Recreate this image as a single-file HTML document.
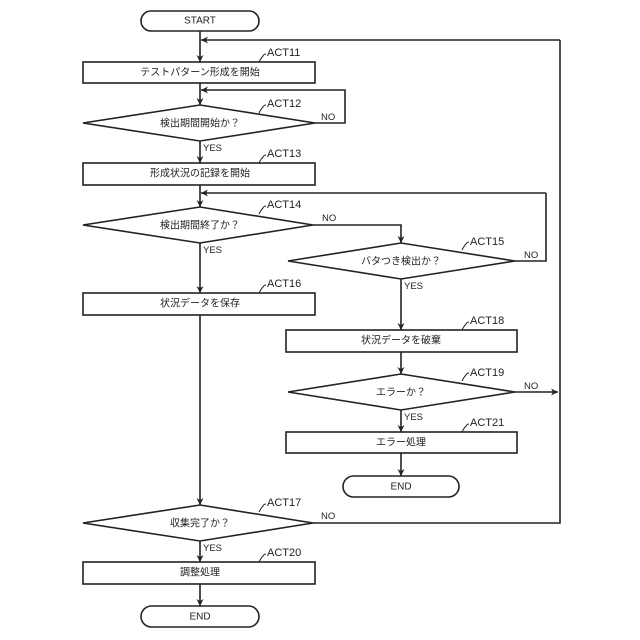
<!DOCTYPE html>
<html><head><meta charset="utf-8"><style>
html,body{margin:0;padding:0;background:#fff;}
svg{display:block;}
text{font-family:"Liberation Sans","Noto Sans CJK JP",sans-serif;fill:#222;}
.n{font-size:10px;text-anchor:middle;dominant-baseline:central;}
.a{font-size:11px;}
.s{font-size:9.5px;}
</style></head><body>
<svg width="640" height="640" viewBox="0 0 640 640">
<defs><marker id="ar" viewBox="0 0 10 10" refX="10" refY="5" markerWidth="7" markerHeight="7" orient="auto" markerUnits="userSpaceOnUse"><path d="M0,0 L10,5 L0,10 L3,5 Z" fill="#222"/></marker></defs>
<g fill="none" stroke="#222" stroke-width="1.6">
<!-- shapes -->
<rect x="141" y="11" width="118" height="20" rx="10"/>
<rect x="83" y="62" width="232" height="21"/>
<polygon points="83,123 200,105 315,123 200,141"/>
<rect x="83" y="163" width="232" height="22"/>
<polygon points="83,225 200,207 313,225 200,243"/>
<polygon points="288,261 401,243 515,261 401,279"/>
<rect x="83" y="293" width="232" height="22"/>
<rect x="286" y="330" width="231" height="22"/>
<polygon points="288,392 401,374 515,392 401,410"/>
<rect x="286" y="432" width="231" height="21"/>
<rect x="343" y="476" width="116" height="21" rx="10.5"/>
<polygon points="83,523 200,505 313,523 200,541"/>
<rect x="83" y="562" width="232" height="22"/>
<rect x="141" y="606" width="118" height="21" rx="10.5"/>
<!-- connectors -->
<path d="M200,31 V62" marker-end="url(#ar)"/>
<path d="M560,40 H201" marker-end="url(#ar)"/>
<path d="M200,83 V105" marker-end="url(#ar)"/>
<path d="M315,123 H345 V90 H201" marker-end="url(#ar)"/>
<path d="M200,141 V163" marker-end="url(#ar)"/>
<path d="M200,185 V207" marker-end="url(#ar)"/>
<path d="M546,193 H201" marker-end="url(#ar)"/>
<path d="M313,225 H401 V243" marker-end="url(#ar)"/>
<path d="M515,261 H546 V193"/>
<path d="M200,243 V293" marker-end="url(#ar)"/>
<path d="M401,279 V330" marker-end="url(#ar)"/>
<path d="M401,352 V374" marker-end="url(#ar)"/>
<path d="M515,392 H558" marker-end="url(#ar)"/>
<path d="M401,410 V432" marker-end="url(#ar)"/>
<path d="M401,453 V476" marker-end="url(#ar)"/>
<path d="M200,315 V505" marker-end="url(#ar)"/>
<path d="M313,523 H560 V40"/>
<path d="M200,541 V562" marker-end="url(#ar)"/>
<path d="M200,584 V606" marker-end="url(#ar)"/>
</g>
<!-- ACT ticks -->
<g fill="none" stroke="#222" stroke-width="1">
<path d="M259,62 q2,-4 4,-6 q1,-2 3,-2"/>
<path d="M259,113 q2,-4 4,-6 q1,-2 3,-2"/>
<path d="M259,163 q2,-4 4,-6 q1,-2 3,-2"/>
<path d="M259,214 q2,-4 4,-6 q1,-2 3,-2"/>
<path d="M462,250 q2,-4 4,-6 q1,-2 3,-2"/>
<path d="M259,293 q2,-4 4,-6 q1,-2 3,-2"/>
<path d="M462,330 q2,-4 4,-6 q1,-2 3,-2"/>
<path d="M462,381 q2,-4 4,-6 q1,-2 3,-2"/>
<path d="M462,432 q2,-4 4,-6 q1,-2 3,-2"/>
<path d="M259,512 q2,-4 4,-6 q1,-2 3,-2"/>
<path d="M259,562 q2,-4 4,-6 q1,-2 3,-2"/>
</g>
<text class="n" x="200" y="21">START</text>
<text class="n" x="200" y="73">テストパターン形成を開始</text>
<text class="n" x="200" y="124">検出期間開始か？</text>
<text class="n" x="200" y="174">形成状況の記録を開始</text>
<text class="n" x="200" y="226">検出期間終了か？</text>
<text class="n" x="401" y="262">バタつき検出か？</text>
<text class="n" x="200" y="304">状況データを保存</text>
<text class="n" x="401" y="341">状況データを破棄</text>
<text class="n" x="401" y="393">エラーか？</text>
<text class="n" x="401" y="443">エラー処理</text>
<text class="n" x="401" y="487">END</text>
<text class="n" x="200" y="524">収集完了か？</text>
<text class="n" x="200" y="573">調整処理</text>
<text class="n" x="200" y="617">END</text>
<text class="a" x="267" y="56">ACT11</text>
<text class="a" x="267" y="107">ACT12</text>
<text class="a" x="267" y="157">ACT13</text>
<text class="a" x="267" y="208">ACT14</text>
<text class="a" x="470" y="245">ACT15</text>
<text class="a" x="267" y="287">ACT16</text>
<text class="a" x="470" y="324">ACT18</text>
<text class="a" x="470" y="376">ACT19</text>
<text class="a" x="470" y="426">ACT21</text>
<text class="a" x="267" y="506">ACT17</text>
<text class="a" x="267" y="556">ACT20</text>
<text class="s" x="321" y="120">NO</text>
<text class="s" x="203" y="151">YES</text>
<text class="s" x="322" y="221">NO</text>
<text class="s" x="203" y="253">YES</text>
<text class="s" x="524" y="258">NO</text>
<text class="s" x="404" y="289">YES</text>
<text class="s" x="524" y="389">NO</text>
<text class="s" x="404" y="420">YES</text>
<text class="s" x="321" y="519">NO</text>
<text class="s" x="203" y="551">YES</text>
</svg>
</body></html>
